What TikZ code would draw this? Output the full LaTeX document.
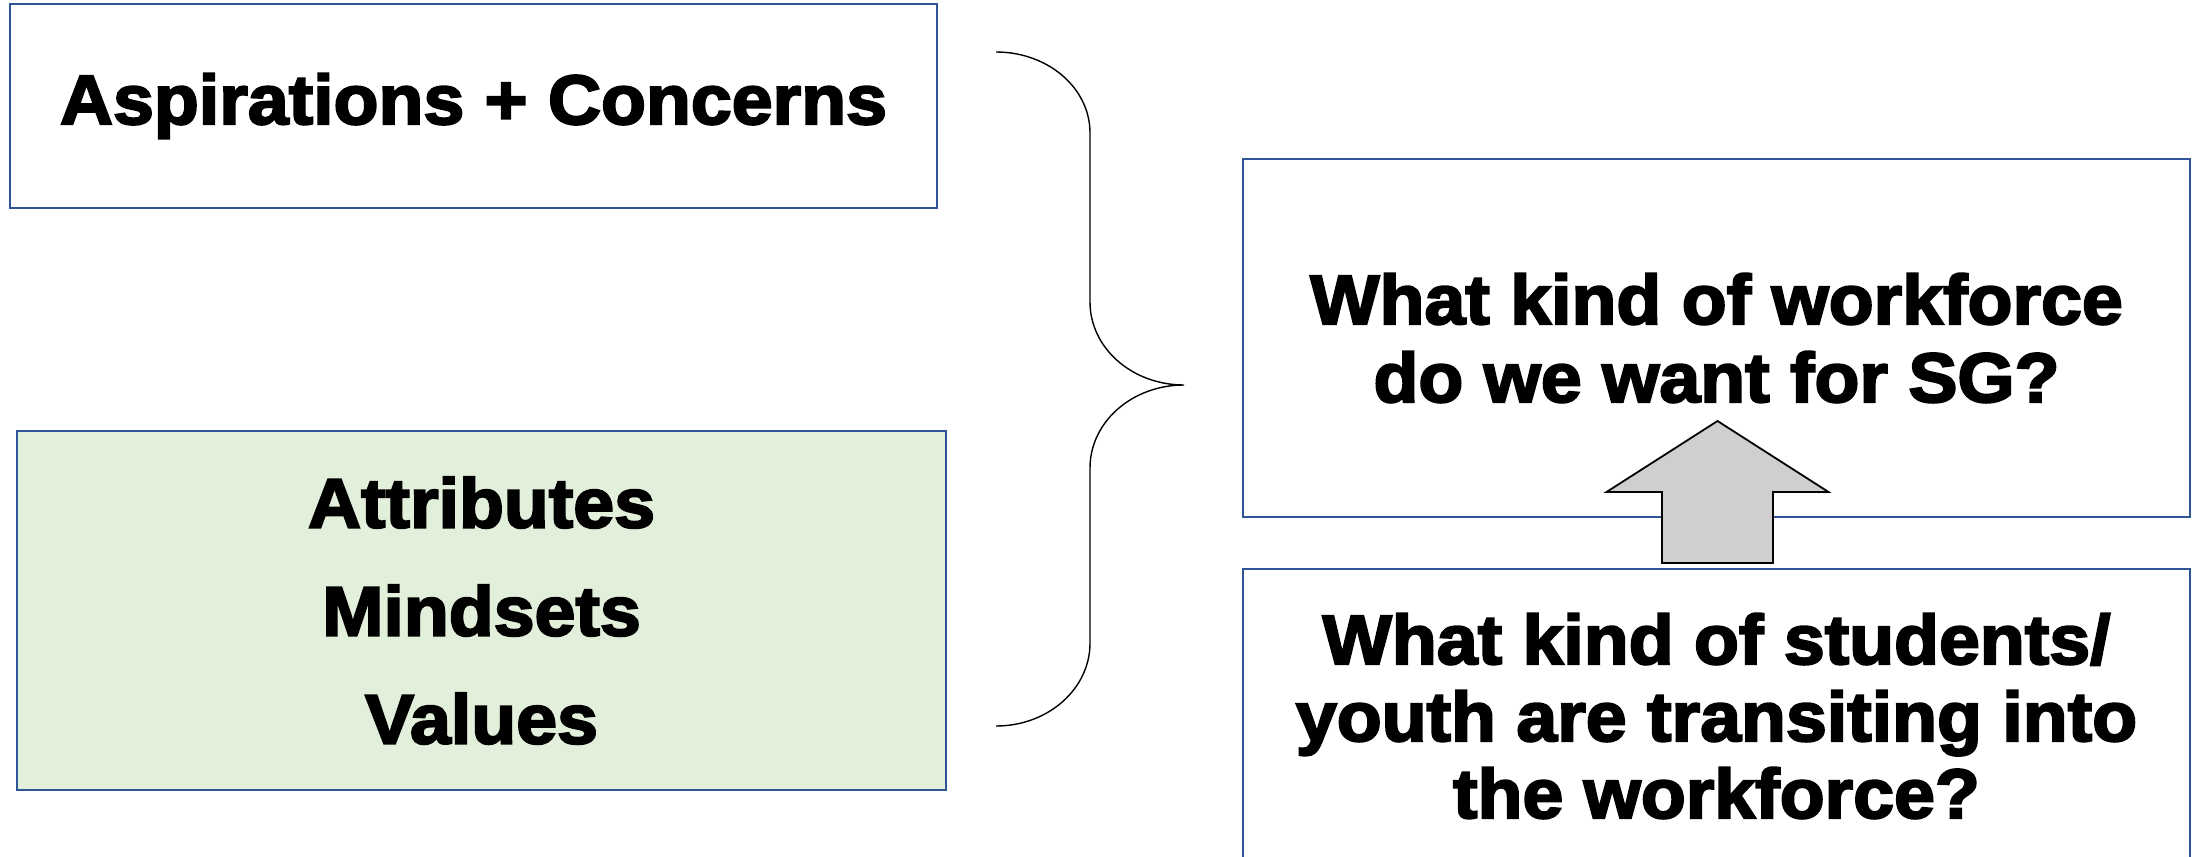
\documentclass[tikz,border=0pt]{standalone}
\usepackage{fontspec}
\setmainfont{Liberation Sans}[BoldFeatures={FakeBold=3,FakeStretch=1.05}]
\definecolor{boxblue}{HTML}{2F5597}
\definecolor{boxgreen}{HTML}{E2EFDA}
\definecolor{arrgray}{HTML}{D0CECE}
\begin{document}
\begin{tikzpicture}[x=0.5pt,y=-0.5pt,
  box/.style={draw=boxblue,line width=1.2pt,rectangle,inner sep=0pt},
  label/.style={font=\fontsize{35}{39}\selectfont\bfseries,align=center,text=black},
  bracepath/.style={draw=black,line width=0.7pt},
  fatarrow/.style={draw=black,line width=0.9pt,fill=arrgray}]
\useasboundingbox (0,0) rectangle (2203,856);
\begin{scope}
\clip (0,0) rectangle (2203,856);
% boxes
\node[box,minimum width=463.5pt,minimum height=102pt] (asp) at (473.5,106) {};
\node[label] (asptext) at (asp.center) {Aspirations + Concerns};
\node[box,fill=boxgreen,minimum width=464.5pt,minimum height=179.5pt] (amv) at (481.5,610.5) {};
\node[label,font=\fontsize{35}{54}\selectfont\bfseries] (amvtext) at (amv.center) {Attributes\\Mindsets\\Values};
\node[box,minimum width=473.5pt,minimum height=179pt] (wf) at (1716.5,338) {};
\node[label] (wftext) at (wf.center) {What kind of workforce\\do we want for SG?};
\node[box,minimum width=473.5pt,minimum height=180pt] (st) at (1716.5,749) {};
\node[label,font=\fontsize{35}{38.5}\selectfont\bfseries] (sttext) at (1716.5,716) {What kind of students/\\youth are transiting into\\the workforce?};
% brace
\coordinate (btop) at (996,52);
\coordinate (btip) at (1184,385);
\coordinate (bbot) at (996,726);
\draw[bracepath] (btop) .. controls (1048,52) and (1090,88) .. (1090,133)
  -- (1090,302) .. controls (1090,348) and (1132,385) .. (btip)
  .. controls (1132,385) and (1090,422) .. (1090,468)
  -- (1090,643) .. controls (1090,689) and (1048,726) .. (bbot);
% block arrow
\coordinate (abase) at (1717.5,563);
\draw[fatarrow] ([xshift=-27.75pt]abase) -- ([xshift=27.75pt]abase)
  -- ([xshift=27.75pt,yshift=35.5pt]abase) -- ([xshift=55.5pt,yshift=35.5pt]abase)
  -- ([yshift=71pt]abase) -- ([xshift=-55.5pt,yshift=35.5pt]abase)
  -- ([xshift=-27.75pt,yshift=35.5pt]abase) -- cycle;
\end{scope}
\end{tikzpicture}
\end{document}
